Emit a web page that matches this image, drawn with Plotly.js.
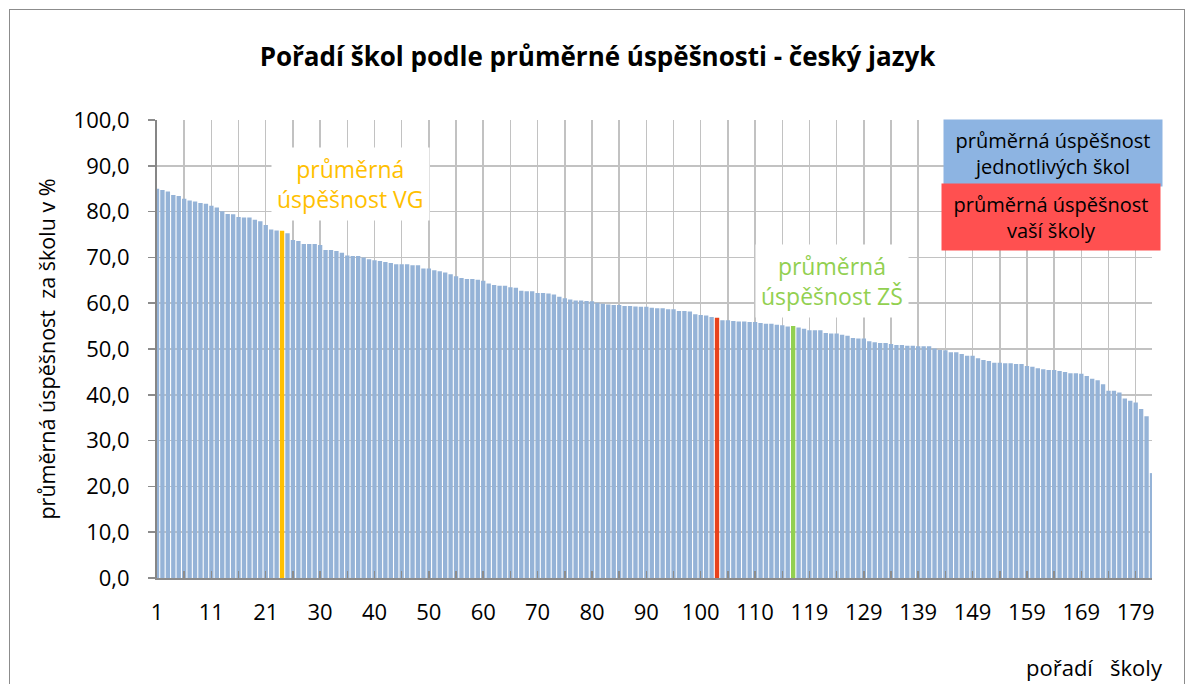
<!DOCTYPE html>
<html>
<head>
<meta charset="utf-8">
<script src="https://cdn.plot.ly/plotly-3.0.1.min.js"></script>
<style>
  html, body { margin: 0; padding: 0; background: #fff; }
  #wrap { position: relative; width: 1195px; height: 684px; overflow: hidden; }
  #chart { width: 1195px; height: 684px; }
  #frame { position: absolute; left: 9px; top: 9px; width: 1176px; height: 700px;
           border: 1.5px solid #8c8c8c; pointer-events: none; box-sizing: border-box; }
</style>
</head>
<body>
<div id="wrap">
  <div id="chart"></div>
  <div id="frame"></div>
</div>
<script>
// ---- data ----
// average success of individual schools, rank 1..182
const schoolScores = [
  85.0,84.7,84.4,83.6,83.4,82.8,82.4,82.2,81.9,81.7,81.3,80.9,80.1,79.5,79.4,78.8,78.7,78.7,78.2,77.9,77.1,76.1,75.9,
  75.3,73.8,73.6,72.9,72.9,72.9,72.7,
  71.6,71.6,71.4,71.0,70.4,70.3,70.3,70.0,69.6,69.4,
  69.2,69.0,68.8,68.5,68.5,68.5,68.3,68.3,67.6,67.6,
  67.2,67.0,66.7,66.3,65.9,65.5,65.3,65.3,65.1,64.9,
  64.3,64.0,63.8,63.8,63.5,63.4,62.7,62.6,62.6,62.2,
  62.2,62.1,61.9,61.4,61.1,60.8,60.6,60.6,60.5,60.4,
  60.1,59.9,59.7,59.6,59.6,59.4,59.4,59.3,59.2,59.2,
  59.0,58.9,58.9,58.7,58.7,58.3,58.3,58.2,57.6,57.4,
  57.3,57.0,56.8,56.3,56.3,56.1,56.0,56.0,55.9,55.9,
  55.7,55.5,55.5,55.3,55.2,54.9,
  54.7,54.4,54.1,
  54.1,54.1,53.5,53.4,53.4,53.1,52.9,52.4,52.3,52.3,
  51.7,51.5,51.3,51.3,51.1,50.9,50.9,50.7,50.7,50.6,
  50.6,50.6,50.1,49.8,49.7,49.3,49.3,48.9,48.5,48.5,
  48.0,47.6,47.4,47.0,47.0,46.9,46.9,46.7,46.7,46.3,
  46.1,45.8,45.6,45.4,45.4,45.2,45.0,44.7,44.7,44.6,
  44.1,43.5,43.2,42.3,40.9,40.9,40.5,39.2,38.7,38.3,
  36.9,35.3,22.9
];
const vgLabel = "VG";          // average of VG
const vgScore = 75.8;
const vgAfterRank = 23;
const zsLabel = "ZŠ";          // average of ZŠ
const zsScore = 55.0;
const zsAfterRank = 116;
const yourSchoolRank = 103;    // "vaší školy"

const titleText = "Pořadí škol podle průměrné úspěšnosti - český jazyk";
const yTitleText = "průměrná úspěšnost\u00a0\u00a0za školu v %";
const xTitleText = "pořadí\u00a0\u00a0\u00a0školy";
const vgNote = "průměrná<br>úspěšnost VG";
const zsNote = "průměrná<br>úspěšnost ZŠ";
const legendSchools = "průměrná úspěšnost<br>jednotlivých škol";
const legendYours = "průměrná úspěšnost<br>vaší školy";

// ---- colours ----
const cSchool = "#95b3d7", cVG = "#ffc000", cZS = "#92d050", cYours = "#e8421c";

// ---- build categories ----
const categories = [], values = [], colors = [];
schoolScores.forEach((v, k) => {
  const rank = k + 1;
  categories.push(String(rank));
  values.push(v);
  colors.push(rank === yourSchoolRank ? cYours : cSchool);
  if (rank === vgAfterRank) { categories.push(vgLabel); values.push(vgScore); colors.push(cVG); }
  if (rank === zsAfterRank) { categories.push(zsLabel); values.push(zsScore); colors.push(cZS); }
});
const tickvals = [], ticktext = [];
categories.forEach((c, i) => {
  if (i % 5 === 0) { tickvals.push(c); ticktext.push(i % 10 === 0 ? c : ""); }
});

// ---- layout helpers (pixel -> paper) ----
const L = 157, R = 43, T = 120, B = 106, W = 1195, H = 684;
const pw = W - L - R, ph = H - T - B;
const px = x => (x - L) / pw;
const py = y => (H - B - y) / ph;

const FONT = "'Open Sans', sans-serif";

const trace = {
  type: "bar",
  x: categories,
  y: values,
  marker: { color: colors, line: { width: 0 } },
  hoverinfo: "x+y"
};

const layout = {
  width: W, height: H,
  margin: { l: L, r: R, t: T, b: B, pad: 0 },
  paper_bgcolor: "#ffffff",
  plot_bgcolor: "#ffffff",
  separators: ", ",
  showlegend: false,
  bargap: 0.2,
  font: { family: FONT, color: "#000" },
  title: {
    text: titleText,
    font: { family: FONT, size: 26, color: "#000", weight: "bold" },
    x: 0.5, xref: "container", xanchor: "center",
    y: 1 - 57 / H, yref: "container", yanchor: "middle"
  },
  xaxis: {
    type: "category",
    range: [0, categories.length - 1],
    tickmode: "array",
    tickvals: tickvals,
    ticktext: ticktext,
    showgrid: true,
    gridcolor: "#c2c2c2",
    gridwidth: 1.5,
    ticks: "inside",
    ticklen: 7,
    tickwidth: 1.5,
    tickcolor: "#8c8c8c",
    showline: true,
    linecolor: "#8c8c8c",
    linewidth: 2,
    tickangle: 0,
    tickfont: { family: FONT, size: 22, color: "#000" },
    ticklabelstandoff: 14,
    fixedrange: true
  },
  yaxis: {
    range: [0, 100],
    tickmode: "linear",
    tick0: 0, dtick: 10,
    tickformat: ".1f",
    showgrid: true,
    gridcolor: "#c2c2c2",
    gridwidth: 1.5,
    zeroline: false,
    ticks: "outside",
    ticklen: 7,
    tickwidth: 1.5,
    tickcolor: "#8c8c8c",
    showline: true,
    linecolor: "#868686",
    linewidth: 2,
    tickfont: { family: FONT, size: 22, color: "#000" },
    ticklabelstandoff: 14,
    title: { text: yTitleText, font: { family: FONT, size: 21.5, color: "#000" }, standoff: 12 },
    fixedrange: true
  },
  annotations: [
    { xref: "paper", yref: "paper", x: px(350), y: py(184), xanchor: "center", yanchor: "middle",
      text: vgNote, showarrow: false, font: { family: FONT, size: 23, color: cVG },
      bgcolor: "#ffffff", borderpad: 5 },
    { xref: "paper", yref: "paper", x: px(832), y: py(281), xanchor: "center", yanchor: "middle",
      text: zsNote, showarrow: false, font: { family: FONT, size: 23, color: cZS },
      bgcolor: "#ffffff", borderpad: 5 },
    { xref: "paper", yref: "paper", x: px(1053), y: py(153), xanchor: "center", yanchor: "middle",
      text: legendSchools, showarrow: false, font: { family: FONT, size: 20, color: "#000" },
      bgcolor: "#8db4e2", width: 216, height: 64, borderpad: 1 },
    { xref: "paper", yref: "paper", x: px(1051), y: py(217), xanchor: "center", yanchor: "middle",
      text: legendYours, showarrow: false, font: { family: FONT, size: 20, color: "#000" },
      bgcolor: "#ff5050", width: 216, height: 64, borderpad: 1 },
    { xref: "paper", yref: "paper", x: px(1165), y: py(667), xanchor: "right", yanchor: "middle",
      text: xTitleText, showarrow: false, font: { family: FONT, size: 22, color: "#000" } }
  ]
};

Plotly.newPlot("chart", [trace], layout, { displayModeBar: false, staticPlot: true });
</script>
</body>
</html>
